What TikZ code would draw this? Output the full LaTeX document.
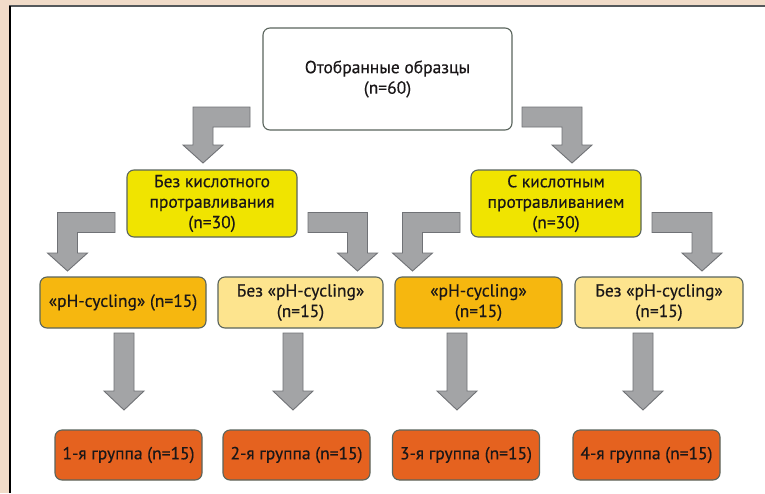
\documentclass[tikz,border=0pt]{standalone}
\usepackage{fontspec}
\setmainfont{PT Sans}
\newfontfamily\boxfont{PT Sans}[FakeBold=0.4]
\usetikzlibrary{calc}

\definecolor{bg}{HTML}{F1DCC9}
\definecolor{frameline}{HTML}{55595C}
\definecolor{boxline}{HTML}{5A655D}
\definecolor{lemon}{HTML}{F0E400}
\definecolor{amber}{HTML}{F6B70F}
\definecolor{cream}{HTML}{FDE48E}
\definecolor{rust}{HTML}{E5621F}
\definecolor{arrowfill}{HTML}{A3A4A6}
\definecolor{arrowline}{HTML}{707276}
\definecolor{txt}{HTML}{1A1718}

% elbow block arrow: start, tip, side (1 = right, -1 = left)
\newcommand{\elbowarrow}[3]{%
  \path[blockarrow] let \p1=(#1), \p2=(#2) in
    (\x1,\y1+10pt) -- ({\x2+(#3)*10pt},\y1+10pt) -- ({\x2+(#3)*10pt},\y2+18pt)
    -- ({\x2+(#3)*20pt},\y2+18pt) -- (\x2,\y2) -- ({\x2-(#3)*20pt},\y2+18pt)
    -- ({\x2-(#3)*10pt},\y2+18pt) -- ({\x2-(#3)*10pt},\y1-10pt) -- (\x1,\y1-10pt) -- cycle;}
% straight block arrow: start, tip
\newcommand{\droparrow}[2]{%
  \path[blockarrow] let \p1=(#1), \p2=(#2) in
    (\x1-10pt,\y1) -- (\x1-10pt,\y2+19pt) -- (\x1-20pt,\y2+19pt) -- (\x2,\y2)
    -- (\x1+20pt,\y2+19pt) -- (\x1+10pt,\y2+19pt) -- (\x1+10pt,\y1) -- cycle;}

\begin{document}
\begin{tikzpicture}[x=1pt,y=-1pt,
  box/.style={draw=boxline, line width=1.1pt, rounded corners=7pt, align=center,
    inner sep=0pt, text=txt, font=\boxfont\fontsize{17.5}{20.5}\selectfont},
  blockarrow/.style={fill=arrowfill, draw=arrowline, line width=0.9pt, line join=miter}]
\useasboundingbox (0,0) rectangle (765,493);

% page background and frame
\fill[bg] (0,0) rectangle (765,493);
\fill[white] (10,6) rectangle (765,493);
\draw[frameline, line width=2pt] (9,6) -- (765,6);
\draw[black, line width=1.4pt] (10,493) -- (10,6);

% Text Node
\node[box, fill=white, minimum width=249, minimum height=102] (top) at (387.5,79) {Отобранные образцы\\(n=60)};
% Text Node
\node[box, fill=lemon, minimum width=170, minimum height=67] (noacid) at (212,203.5) {Без кислотного\\протравливания\\(n=30)};
\node[box, fill=lemon, minimum width=170, minimum height=67] (acid) at (556,203.5) {С кислотным\\протравливанием\\(n=30)};
% Text Node
\node[box, fill=amber, minimum width=166, minimum height=51] (pha) at (123,302.5) {«pH-cycling» (n=15)};
\node[box, fill=cream, minimum width=165, minimum height=51] (nopha) at (300.5,302.5) {Без «pH-cycling»\\(n=15)};
\node[box, fill=amber, minimum width=167, minimum height=51] (phb) at (478.5,302.5) {«pH-cycling»\\(n=15)};
\node[box, fill=cream, minimum width=168, minimum height=51] (nophb) at (659,302.5) {Без «pH-cycling»\\(n=15)};
% Text Node
\node[box, fill=rust, minimum width=147, minimum height=50] (g1) at (128.5,455) {1-я группа (n=15)};
\node[box, fill=rust, minimum width=147, minimum height=50] (g2) at (296.5,455) {2-я группа (n=15)};
\node[box, fill=rust, minimum width=147, minimum height=50] (g3) at (466,455) {3-я группа (n=15)};
\node[box, fill=rust, minimum width=147, minimum height=50] (g4) at (646.5,455) {4-я группа (n=15)};

% arrow ends
\coordinate (topL) at (250,117);   \coordinate (noacidIn) at (203,163);
\coordinate (topR) at (522,117);   \coordinate (acidIn) at (572,163);
\coordinate (noacidL) at (115,222.5); \coordinate (phaIn) at (67.5,271);
\coordinate (noacidR) at (308,222.5); \coordinate (nophaIn) at (357.5,271);
\coordinate (acidL) at (460,222.5);   \coordinate (phbIn) at (412.5,271);
\coordinate (acidR) at (652,222.5);   \coordinate (nophbIn) at (702,271);

% elbow arrows
\elbowarrow{topL}{noacidIn}{-1}
\elbowarrow{topR}{acidIn}{1}
\elbowarrow{noacidL}{phaIn}{-1}
\elbowarrow{noacidR}{nophaIn}{1}
\elbowarrow{acidL}{phbIn}{-1}
\elbowarrow{acidR}{nophbIn}{1}

% straight arrows
\droparrow{124,333}{124,410}
\droparrow{293,333}{293,410}
\droparrow{457,333}{457,410}
\droparrow{643,333}{643,410}
\end{tikzpicture}
\end{document}
